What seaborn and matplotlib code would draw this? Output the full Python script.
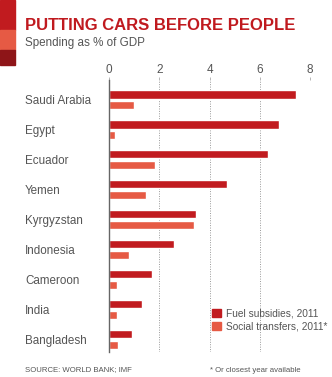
import matplotlib
matplotlib.use("Agg")
import matplotlib.pyplot as plt
import matplotlib.patches as mpatches
import seaborn as sns
import pandas as pd

countries = ["Saudi Arabia", "Egypt", "Ecuador", "Yemen", "Kyrgyzstan",
             "Indonesia", "Cameroon", "India", "Bangladesh"]
fuel = [7.45, 6.77, 6.33, 4.70, 3.48, 2.60, 1.72, 1.32, 0.93]
social = [1.0, 0.22, 1.83, 1.48, 3.40, 0.80, 0.30, 0.30, 0.35]
series = ["Fuel subsidies, 2011", "Social transfers, 2011*"]
xticks = [0, 2, 4, 6, 8]

FUEL_C = "#c11b1f"
SOC_C = "#e65a44"
GRAY = "#555555"

df = pd.DataFrame({
    "country": countries * 2,
    "value": fuel + social,
    "series": [series[0]] * len(countries) + [series[1]] * len(countries),
})

sns.set_theme(style="white")
plt.rcParams["font.family"] = ["Liberation Sans", "DejaVu Sans"]

W, H = 332, 377
fig = plt.figure(figsize=(W / 100, H / 100), dpi=100)
fig.patch.set_facecolor("white")
renderer = fig.canvas.get_renderer()


def fit(txt, target_px):
    w = txt.get_window_extent(renderer).width
    txt.set_fontsize(txt.get_fontsize() * target_px / w)
    return txt.get_fontsize()


ax = fig.add_axes([108 / W, 25 / H, 202 / W, 272 / H])

sns.barplot(data=df, y="country", x="value", hue="series", orient="h",
            palette=[FUEL_C, SOC_C], width=0.72, gap=0.22, ax=ax,
            legend=False, saturation=1)

ax.set_xlim(-0.04, 8.0)
ax.set_ylim(8.42, -0.66)
ax.set_xlabel("")
ax.set_ylabel("")
for s in ["top", "right", "bottom"]:
    ax.spines[s].set_visible(False)
ax.spines["left"].set_color("#666666")
ax.spines["left"].set_linewidth(1.0)
ax.spines["left"].set_position(("data", -0.02))

ax.xaxis.tick_top()
ax.set_xticks(xticks)
ax.set_xticklabels([str(t) for t in xticks])
ax.tick_params(axis="x", top=True, length=2, width=0.6, color="#aaaaaa",
               labelsize=8.5, labelcolor=GRAY, pad=0.8)
for t in xticks[1:]:
    ax.axvline(t, color="#999999", linestyle=(0, (1, 1.5)), linewidth=0.7, zorder=0)

ax.tick_params(axis="y", left=False, labelsize=8.4, labelcolor=GRAY, pad=60)
for lab in ax.get_yticklabels():
    lab.set_ha("left")
fig.canvas.draw()
left_edge = ax.get_yticklabels()[0].get_window_extent(renderer).x0
ax.tick_params(axis="y", pad=60 + (left_edge - 25) * 72 / 100)

# header colour blocks
fig.patches.append(mpatches.Rectangle((0, 1 - 30 / H), 15 / W, 30 / H,
                                      transform=fig.transFigure, color=FUEL_C))
fig.patches.append(mpatches.Rectangle((0, 1 - 50 / H), 15 / W, 20 / H,
                                      transform=fig.transFigure, color=SOC_C))
fig.patches.append(mpatches.Rectangle((0, 1 - 65 / H), 15 / W, 15 / H,
                                      transform=fig.transFigure, color="#8e1518"))

t = fig.text(25 / W, 1 - 25 / H, "PUTTING CARS BEFORE PEOPLE", color="#c01a1f",
             fontsize=13, fontweight="bold", va="center", ha="left")
fit(t, 271)
fig.text(25 / W, 1 - 43 / H, "Spending as % of GDP", color=GRAY,
         fontsize=8.4, va="center", ha="left")

handles = [mpatches.Patch(color=FUEL_C, label=series[0]),
           mpatches.Patch(color=SOC_C, label=series[1])]
fig.legend(handles=handles, loc="center left",
           bbox_to_anchor=(212 / W, 1 - 320 / H), frameon=False,
           fontsize=7.3, handlelength=0.85, handleheight=0.85,
           handletextpad=0.5, labelspacing=0.3, labelcolor=GRAY,
           borderaxespad=0, borderpad=0)

fig.text(25 / W, 1 - 370 / H, "SOURCE: WORLD BANK; IMF", color=GRAY,
         fontsize=5.6, va="center", ha="left")
fig.text(210 / W, 1 - 370 / H, "* Or closest year available", color=GRAY,
         fontsize=5.6, va="center", ha="left")

fig.savefig("out.png", dpi=100, facecolor="white")
